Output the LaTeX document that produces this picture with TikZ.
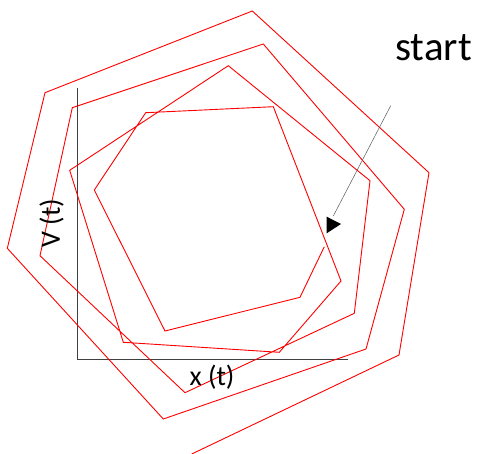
\documentclass[tikz,border=0pt]{standalone}
\usepackage{fontspec}
\setmainfont{Carlito}
\begin{document}
\begin{tikzpicture}[x=1pt,y=-1pt,
  spiral/.style={draw=red,line width=0.9pt,line join=miter},
  axis/.style={draw=black!75,line width=0.9pt},
  pointer/.style={draw=black!65,line width=0.5pt},
  lbl/.style={inner sep=0pt,font=\fontsize{28}{30}\selectfont}]
\useasboundingbox (0,0) rectangle (481,454);
% axes
\coordinate (o) at (77.3,359.7);
\coordinate (ytop) at (77.3,88.3);
\coordinate (xend) at (348.3,359.7);
\draw[axis] (ytop) -- (o) -- (xend);
% spiral
\draw[spiral] (324.3,246.7) -- (300,297.3) -- (165,331) -- (94.3,190) -- (145.7,112.7)
 -- (273.3,106.7) -- (341,281) -- (279.3,352.3) -- (123.3,342.3) -- (69.7,170.3)
 -- (228.3,65.7) -- (370,180.7) -- (354.3,313.3) -- (185,392.7) -- (40,255.7)
 -- (72.3,107.7) -- (263.3,44) -- (404.3,209.3) -- (366,349) -- (163.3,419)
 -- (7.3,248.3) -- (45,92.7) -- (252.3,11) -- (429,172.7) -- (399,355) -- (191.7,454);
% labels
\node[lbl] (xl) at (212,377) {x (t)};
\node[lbl,rotate=90] (vl) at (51.7,223) {V (t)};
\node[inner sep=0pt,font=\fontsize{41}{44}\selectfont] (st) at (433.5,48) {start};
% pointer
\coordinate (pa) at (390.7,105.7);
\coordinate (pb) at (333.3,216);
\draw[pointer] (pa) -- (pb);
\fill[black] (326.7,216.7) -- (341,224) -- (326.7,233.3) -- cycle;
\end{tikzpicture}
\end{document}
